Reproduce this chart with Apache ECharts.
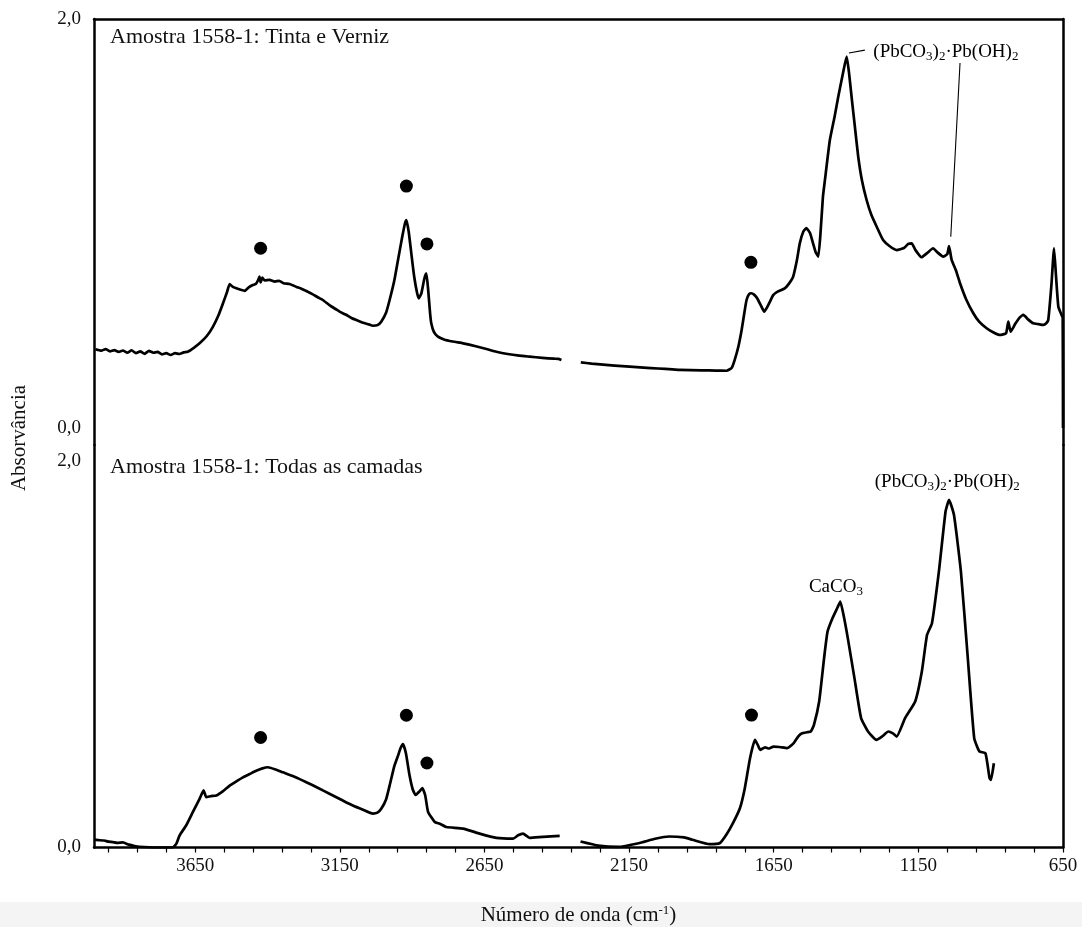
<!DOCTYPE html>
<html>
<head>
<meta charset="utf-8">
<script src="https://cdn.jsdelivr.net/npm/echarts@6/dist/echarts.min.js"></script>
<style>
  body { margin: 0; background: #fff; }
  #chart { width: 1082px; height: 927px; }
</style>
</head>
<body>
<div id="chart"></div>
<script>
// espectro superior: tinta e verniz  (null = falha no registo)
const topWn = [3995, 3975, 3960, 3945, 3930, 3915, 3900, 3885, 3870, 3855, 3840, 3825, 3810, 3795, 3780, 3765, 3750, 3735, 3720, 3705, 3690, 3676,
  3655, 3635, 3610, 3589, 3570, 3554, 3540, 3531, 3520, 3508, 3493, 3479, 3465, 3451, 3440, 3432, 3428, 3424, 3418, 3410, 3393, 3375, 3360, 3345,
  3324, 3300, 3285, 3266, 3245, 3225, 3209, 3185, 3165, 3151, 3130, 3110, 3093, 3070, 3050, 3036, 3020, 3007, 2990, 2978, 2962, 2949, 2935, 2925,
  2920, 2912, 2903, 2893, 2883, 2877, 2868, 2858, 2851, 2845, 2838, 2834, 2825, 2811, 2790, 2760, 2724, 2680, 2640, 2609, 2570, 2530, 2494, 2450,
  2410, 2395, 2384, 2350, 2317, 2280, 2240, 2200, 2148, 2100, 2050, 2000, 1975, 1900, 1850, 1813, 1795, 1785, 1772, 1761, 1752, 1744, 1735, 1727,
  1718, 1710, 1704, 1693, 1683, 1673, 1663, 1652, 1635, 1612, 1598, 1583, 1570, 1560, 1548, 1537, 1525, 1514, 1505, 1496, 1488, 1480, 1473, 1456,
  1440, 1427, 1410, 1398, 1390, 1381, 1370, 1358, 1345, 1329, 1312, 1294, 1272, 1250, 1225, 1200, 1185, 1173, 1160, 1139, 1120, 1099, 1085, 1064,
  1050, 1044, 1035, 1020, 1006, 985, 960, 940, 914, 890, 868, 847, 839, 831, 815, 800, 787, 770, 753, 735, 718, 708, 701, 690, 681, 674, 666, 655,
  651, 650];
const topAbs = [0.385, 0.378, 0.386, 0.375, 0.381, 0.372, 0.379, 0.368, 0.380, 0.366, 0.375, 0.363, 0.377, 0.368, 0.372, 0.360, 0.366, 0.357, 0.366, 0.362, 0.370, 0.373,
  0.392, 0.414, 0.450, 0.495, 0.550, 0.610, 0.665, 0.704, 0.690, 0.683, 0.676, 0.671, 0.688, 0.699, 0.705, 0.725, 0.740, 0.712, 0.735, 0.722, 0.724, 0.716, 0.720, 0.708,
  0.704, 0.690, 0.682, 0.670, 0.655, 0.638, 0.626, 0.600, 0.582, 0.569, 0.555, 0.538, 0.528, 0.515, 0.507, 0.500, 0.503, 0.520, 0.565, 0.626, 0.720, 0.822, 0.930, 1.000,
  1.017, 0.960, 0.854, 0.740, 0.660, 0.634, 0.660, 0.730, 0.756, 0.680, 0.560, 0.512, 0.470, 0.447, 0.433, 0.423, 0.414, 0.400, 0.385, 0.373, 0.362, 0.354, 0.349, 0.343,
  0.339, 0.338, 0.333, null, 0.321, 0.315, 0.310, 0.305, 0.300, 0.295, 0.291, 0.287, 0.284, 0.282, 0.281, 0.280, 0.295, 0.333, 0.400, 0.479, 0.560, 0.626, 0.655, 0.659,
  0.652, 0.640, 0.626, 0.595, 0.569, 0.590, 0.618, 0.650, 0.668, 0.683, 0.705, 0.740, 0.820, 0.903, 0.960, 0.977, 0.955, 0.903, 0.860, 0.838, 0.960, 1.130, 1.213, 1.408,
  1.520, 1.620, 1.740, 1.816, 1.740, 1.620, 1.480, 1.327, 1.210, 1.115, 1.040, 0.984, 0.919, 0.890, 0.870, 0.880, 0.900, 0.903, 0.870, 0.835, 0.855, 0.879, 0.860, 0.838,
  0.850, 0.890, 0.822, 0.770, 0.708, 0.630, 0.561, 0.520, 0.488, 0.467, 0.455, 0.463, 0.520, 0.471, 0.510, 0.540, 0.553, 0.530, 0.512, 0.508, 0.504, 0.512, 0.528, 0.700, 0.879, 0.740, 0.593, 0.553,
  0.540, 0];

// espectro inferior: todas as camadas
const botWn = [4000, 3985, 3965, 3950, 3935, 3920, 3900, 3880, 3860, 3843, 3785, 3728, 3715, 3704, 3681, 3658, 3635, 3621, 3612, 3595, 3577, 3555, 3531,
  3508, 3485, 3462, 3439, 3420, 3399, 3375, 3347, 3305, 3266, 3225, 3186, 3145, 3105, 3070, 3036, 3020, 3007, 2990, 2978, 2962, 2949, 2940, 2932,
  2922, 2909, 2898, 2888, 2875, 2865, 2855, 2845, 2822, 2805, 2782, 2724, 2667, 2609, 2551, 2534, 2517, 2494, 2448, 2390, 2350,
  2318, 2257, 2187, 2117, 2060, 2012, 1960, 1931, 1872, 1837, 1814, 1791, 1767, 1750, 1732, 1715, 1705, 1697, 1680, 1666, 1651, 1630, 1604, 1581,
  1565, 1552, 1535, 1522, 1511, 1493, 1476, 1464, 1447, 1430, 1420, 1407, 1394, 1371, 1348, 1324, 1295, 1275, 1254, 1238, 1225, 1196, 1161, 1138,
  1120, 1103, 1079, 1056, 1044, 1027, 1003, 980, 957, 939, 918, 904, 899, 889];
const botAbs = [0.040, 0.038, 0.036, 0.030, 0.028, 0.024, 0.026, 0.015, 0.008, 0.004, 0, 0, 0.020, 0.063, 0.115, 0.184, 0.252, 0.295, 0.261, 0.266, 0.269, 0.290, 0.320,
  0.342, 0.363, 0.380, 0.397, 0.408, 0.415, 0.405, 0.389, 0.365, 0.338, 0.308, 0.278, 0.247, 0.217, 0.195, 0.175, 0.180, 0.200, 0.250, 0.320, 0.420, 0.475, 0.515, 0.535,
  0.490, 0.372, 0.300, 0.272, 0.290, 0.307, 0.270, 0.184, 0.132, 0.123, 0.106, 0.098, 0.072, 0.050, 0.046, 0.063, 0.072, 0.050, 0.055, 0.060, null,
  0.031, 0.010, 0.003, 0.022, 0.045, 0.057, 0.052, 0.040, 0.017, 0.022, 0.066, 0.126, 0.203, 0.307, 0.462, 0.557, 0.530, 0.505, 0.518, 0.512, 0.522, 0.520, 0.514, 0.540,
  0.575, 0.591, 0.596, 0.600, 0.634, 0.755, 0.979, 1.117, 1.186, 1.240, 1.272, 1.190, 1.083, 0.876, 0.669, 0.600, 0.557, 0.575, 0.600, 0.590, 0.574, 0.669, 0.755, 0.910,
  1.100, 1.160, 1.428, 1.738, 1.798, 1.721, 1.428, 0.997, 0.566, 0.497, 0.488, 0.359, 0.350, 0.436];

// marcadores (pontos pretos)
const topDotWn = [3424, 2920, 2849, 1729];
const topDotAbs = [0.879, 1.183, 0.900, 0.810];
const botDotWn = [3424, 2920, 2849, 1727];
const botDotAbs = [0.569, 0.684, 0.437, 0.685];

const xLabelTicks = [650, 1150, 1650, 2150, 2650, 3150, 3650];
const xMinorTicks = [];
for (let t = 650; t <= 3950; t += 100) xMinorTicks.push(t);
const yLabelTicks = [0, 2];

const FONT = 'Liberation Serif';
const zip = (a, b) => a.map((v, i) => [v, b[i]]);
const fmtY = v => v.toFixed(1).replace('.', ',');

const leadFormula = '{n|(PbCO}{s|3}{n|)}{s|2}{n|·Pb(OH)}{s|2}';
const richSub = {
    n: {fontFamily: FONT, fontSize: 19, color: '#000', lineHeight: 22},
    s: {fontFamily: FONT, fontSize: 13, color: '#000', lineHeight: 13, verticalAlign: 'bottom'}
};

const frame = {color: '#000', width: 2.5};
const curve = {color: '#000', width: 2.7, join: 'round'};

function xAxisBase(grid) {
    return {
        gridIndex: grid, type: 'value', min: 650, max: 4000, inverse: true,
        axisLine: {show: true, onZero: false, lineStyle: frame},
        splitLine: {show: false}
    };
}

function yAxisPair(grid, min, max) {
    return [{
        gridIndex: grid, type: 'value', min: min, max: max, position: 'left',
        axisLine: {show: true, onZero: false, lineStyle: frame},
        axisTick: {show: false},
        splitLine: {show: false},
        axisLabel: {customValues: yLabelTicks, formatter: fmtY, margin: 13,
            fontFamily: FONT, fontSize: 19, color: '#111'}
    }, {
        gridIndex: grid, type: 'value', min: min, max: max, position: 'right',
        axisLine: {show: true, onZero: false, lineStyle: frame},
        axisTick: {show: false}, axisLabel: {show: false}, splitLine: {show: false}
    }];
}

const chart = echarts.init(document.getElementById('chart'));
chart.setOption({
    animation: false,
    backgroundColor: '#fff',
    grid: [
        {left: 94, right: 19, top: 19, height: 426},
        {left: 94, right: 19, top: 445, height: 404}
    ],
    xAxis: [
        Object.assign(xAxisBase(0), {position: 'top', axisTick: {show: false}, axisLabel: {show: false}}),
        Object.assign(xAxisBase(1), {
            position: 'bottom',
            axisTick: {show: true, customValues: xMinorTicks, length: 5, lineStyle: {color: '#000', width: 1.2}},
            axisLabel: {customValues: xLabelTicks, formatter: v => String(v), margin: 9,
                fontFamily: FONT, fontSize: 19, color: '#111'},
            name: '{a|Número de onda (cm}{b|-1}{a|)}',
            nameLocation: 'middle',
            nameGap: 57,
            nameTextStyle: {rich: {
                a: {fontFamily: FONT, fontSize: 21, color: '#111', lineHeight: 22},
                b: {fontFamily: FONT, fontSize: 13, color: '#111', lineHeight: 13, verticalAlign: 'top'}
            }}
        })
    ],
    yAxis: [].concat(yAxisPair(0, -0.083, 2), yAxisPair(1, 0, 2.082)),
    graphic: [
        {type: 'rect', z: -100, silent: true, shape: {x: 0, y: 902, width: 1082, height: 25}, style: {fill: '#f4f4f4'}},
        {type: 'text', x: 110, y: 37, style: {text: 'Amostra 1558-1: Tinta e Verniz', fontFamily: FONT, fontSize: 22,
            fill: '#111', textVerticalAlign: 'middle'}},
        {type: 'text', x: 110, y: 467, style: {text: 'Amostra 1558-1: Todas as camadas', fontFamily: FONT, fontSize: 22,
            fill: '#111', textVerticalAlign: 'middle'}},
        {type: 'text', x: 19, y: 438, rotation: Math.PI / 2, style: {text: 'Absorvância', fontFamily: FONT, fontSize: 21,
            fill: '#111', textAlign: 'center', textVerticalAlign: 'middle'}}
    ],
    series: [
        {
            type: 'line', xAxisIndex: 0, yAxisIndex: 0, data: zip(topWn, topAbs),
            symbol: 'none', connectNulls: false, smooth: 0.15, lineStyle: curve
        },
        {
            type: 'scatter', xAxisIndex: 0, yAxisIndex: 0, data: zip(topDotWn, topDotAbs),
            symbolSize: 13, itemStyle: {color: '#000', opacity: 1}
        },
        {
            type: 'line', xAxisIndex: 0, yAxisIndex: 0, symbol: 'none', connectNulls: false,
            data: [[1390, 1.834], [1335, 1.848], [1200, null], [1006, 1.785], [1038, 0.935]],
            lineStyle: {color: '#000', width: 1.1}
        },
        {
            type: 'scatter', xAxisIndex: 0, yAxisIndex: 0, symbolSize: 0, data: [[1055, 1.839]],
            itemStyle: {opacity: 1},
            label: {show: true, position: 'inside', formatter: leadFormula, rich: richSub}
        },
        {
            type: 'line', xAxisIndex: 1, yAxisIndex: 2, data: zip(botWn, botAbs),
            symbol: 'none', connectNulls: false, smooth: 0.15, lineStyle: curve
        },
        {
            type: 'scatter', xAxisIndex: 1, yAxisIndex: 2, data: zip(botDotWn, botDotAbs),
            symbolSize: 13, itemStyle: {color: '#000', opacity: 1}
        },
        {
            type: 'scatter', xAxisIndex: 1, yAxisIndex: 2, symbolSize: 0, itemStyle: {opacity: 1},
            data: [
                {value: [1050, 1.892], label: {formatter: leadFormula}},
                {value: [1435, 1.347], label: {formatter: '{n|CaCO}{s|3}'}}
            ],
            label: {show: true, position: 'inside', rich: richSub}
        }
    ]
});
</script>
</body>
</html>
